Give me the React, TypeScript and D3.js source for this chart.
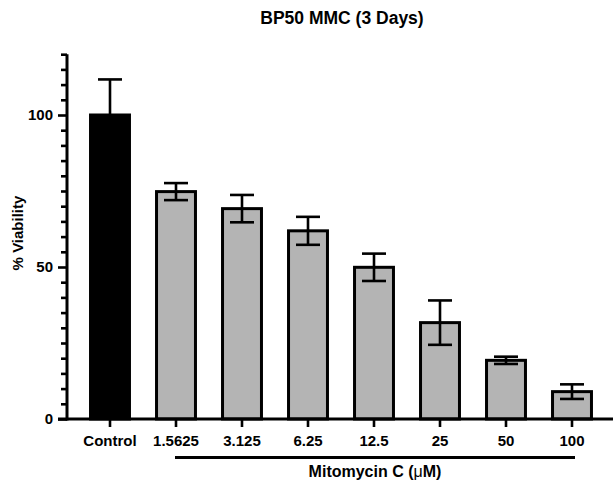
import React, { useEffect, useRef } from 'react';
import * as d3 from 'd3';

const categories = ['Control', '1.5625', '3.125', '6.25', '12.5', '25', '50', '100'];
const viability = [100, 74.8, 69.2, 61.9, 49.9, 31.7, 19.3, 9.0];
const errors = [11.7, 2.8, 4.5, 4.6, 4.5, 7.3, 1.2, 2.4];
const majorTicks = [0, 50, 100];

const App = () => {
  const svgRef = useRef<SVGSVGElement | null>(null);

  useEffect(() => {
    if (!svgRef.current) return;
    const width = 613;
    const height = 482;
    const font = '"Liberation Sans", Arial, sans-serif';

    const svg = d3.select(svgRef.current)
      .attr('width', width)
      .attr('height', height);
    svg.selectAll('*').remove();

    const x = d3.scaleBand<string>()
      .domain(categories)
      .range([77, 605])
      .paddingInner(0.41)
      .paddingOuter(0.205);

    const y = d3.scaleLinear()
      .domain([0, 120])
      .range([419, 419 - 120 * 3.04]);

    const data = categories.map((c, i) => ({ c, v: viability[i], e: errors[i] }));

    // bars
    svg.selectAll('rect.bar')
      .data(data)
      .enter()
      .append('rect')
      .attr('class', 'bar')
      .attr('x', d => x(d.c)!)
      .attr('y', d => y(d.v))
      .attr('width', x.bandwidth())
      .attr('height', d => y(0) - y(d.v))
      .attr('fill', (d, i) => (i === 0 ? '#000' : '#b4b4b4'))
      .attr('stroke', '#000')
      .attr('stroke-width', 3);

    // error bars
    const capHalf = 12;
    const eb = svg.selectAll('g.err')
      .data(data)
      .enter()
      .append('g')
      .attr('class', 'err')
      .attr('stroke', '#000')
      .attr('stroke-width', 2.6);
    const cx = (d: { c: string }) => x(d.c)! + x.bandwidth() / 2;
    eb.append('line')
      .attr('x1', cx).attr('x2', cx)
      .attr('y1', d => y(d.v + d.e)).attr('y2', d => y(d.v - d.e));
    eb.append('line')
      .attr('x1', d => cx(d) - capHalf).attr('x2', d => cx(d) + capHalf)
      .attr('y1', d => y(d.v + d.e)).attr('y2', d => y(d.v + d.e));
    eb.append('line')
      .attr('x1', d => cx(d) - capHalf).attr('x2', d => cx(d) + capHalf)
      .attr('y1', d => y(d.v - d.e)).attr('y2', d => y(d.v - d.e));

    // y axis: minor ticks every 5
    const yAxisX = 67;
    const minor = d3.range(0, 121, 5).filter(t => !majorTicks.includes(t));
    const yMinor = svg.append('g')
      .attr('transform', `translate(${yAxisX},0)`)
      .call(d3.axisLeft(y).tickValues(minor).tickSize(6).tickFormat(() => ''));
    yMinor.select('.domain').remove();
    yMinor.selectAll('line').attr('stroke-width', 2.6);

    const yMajor = svg.append('g')
      .attr('transform', `translate(${yAxisX},0)`)
      .call(d3.axisLeft(y).tickValues(majorTicks).tickSize(9).tickPadding(5).tickFormat(d3.format('d')));
    yMajor.select('.domain').remove();
    yMajor.selectAll('line').attr('stroke-width', 2.6);
    yMajor.selectAll('text')
      .attr('font-family', font)
      .attr('font-size', 15)
      .attr('font-weight', 'bold')
      .attr('fill', '#000');

    svg.append('line')
      .attr('x1', yAxisX).attr('x2', yAxisX)
      .attr('y1', y(120)).attr('y2', y(0) + 1.5)
      .attr('stroke', '#000').attr('stroke-width', 3);

    // x axis
    const xAxis = svg.append('g')
      .attr('transform', `translate(0,${y(0)})`)
      .call(d3.axisBottom(x).tickSize(8).tickPadding(8));
    xAxis.select('.domain').remove();
    xAxis.selectAll('line').attr('stroke-width', 2.6);
    xAxis.selectAll('text')
      .attr('font-family', font)
      .attr('font-size', 15)
      .attr('font-weight', 'bold')
      .attr('fill', '#000');

    svg.append('line')
      .attr('x1', 58).attr('x2', width)
      .attr('y1', y(0)).attr('y2', y(0))
      .attr('stroke', '#000').attr('stroke-width', 3);

    // treatment bracket
    const first = x(categories[1])! + x.bandwidth() / 2 - 1;
    const last = x(categories[categories.length - 1])! + x.bandwidth() / 2 + 3;
    svg.append('line')
      .attr('x1', first).attr('x2', last)
      .attr('y1', 457.5).attr('y2', 457.5)
      .attr('stroke', '#000').attr('stroke-width', 3);

    const mid = (first + last) / 2;
    const xt = svg.append('text')
      .attr('x', mid)
      .attr('y', 477)
      .attr('text-anchor', 'middle')
      .attr('font-family', font)
      .attr('font-size', 16)
      .attr('font-weight', 'bold');
    xt.append('tspan').text('Mitomycin C (');
    xt.append('tspan').attr('font-weight', 'normal').text('μ');
    xt.append('tspan').text('M)');

    // y title
    svg.append('text')
      .attr('transform', `translate(23,233) rotate(-90)`)
      .attr('text-anchor', 'middle')
      .attr('font-family', font)
      .attr('font-size', 15)
      .attr('font-weight', 'bold')
      .text('% Viability');

    // title
    svg.append('text')
      .attr('x', 342)
      .attr('y', 24)
      .attr('text-anchor', 'middle')
      .attr('font-family', font)
      .attr('font-size', 17.5)
      .attr('font-weight', 'bold')
      .text('BP50 MMC (3 Days)');
  }, []);

  return (
    <svg
      ref={svgRef}
      style={{ position: 'absolute', left: 0, top: 0, background: '#fff' }}
    ></svg>
  );
};

export default App;
